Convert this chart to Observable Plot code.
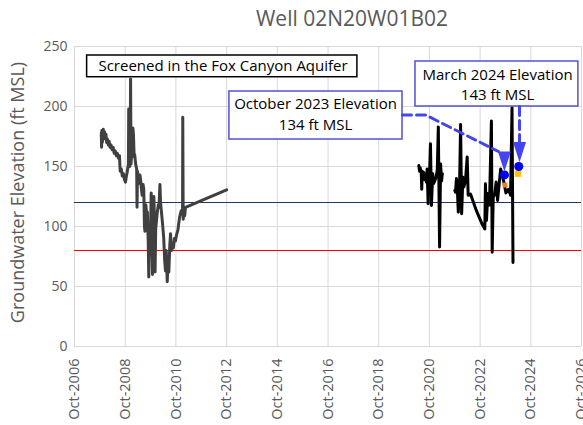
<!DOCTYPE html>
<html>
<head>
<meta charset="utf-8">
<script src="https://cdn.jsdelivr.net/npm/d3@7"></script>
<script src="https://cdn.jsdelivr.net/npm/@observablehq/plot@0.6"></script>
<style>
  body { margin: 0; background: #fff; font-family: "Open Sans", sans-serif; }
  #wrap { width: 583px; height: 425px; position: relative; overflow: hidden; background: #fff; }
  #title { position: absolute; top: 8px; left: 352px; transform: translateX(-50%);
           font-size: 21px; line-height: 21px; color: #595959; white-space: nowrap; }
  #chart { position: absolute; top: 36px; left: 0; }
</style>
</head>
<body>
<div id="wrap">
  <div id="title">Well 02N20W01B02</div>
  <div id="chart"></div>
</div>
<script>
// ---------- data ----------
const xTickLabels = ["Oct-2006","Oct-2008","Oct-2010","Oct-2012","Oct-2014","Oct-2016","Oct-2018","Oct-2020","Oct-2022","Oct-2024","Oct-2026"];
const yTicks = [0, 50, 100, 150, 200, 250];
const yLabel = "Groundwater Elevation (ft MSL)";

// early record (dark gray)
const earlyDates = ["2007-10-22","2007-10-26","2007-10-30","2007-11-06","2007-11-12","2007-11-20","2007-11-28","2007-12-08","2007-12-18","2007-12-28",
  "2008-01-08","2008-01-18","2008-01-30","2008-02-12","2008-02-25","2008-03-10","2008-03-25","2008-04-10","2008-04-25","2008-05-10",
  "2008-05-25","2008-06-10","2008-06-25","2008-07-10","2008-07-20","2008-08-05","2008-08-20","2008-09-05","2008-09-20","2008-10-05",
  "2008-10-15","2008-10-28","2008-11-08","2008-11-16","2008-11-20","2008-11-25","2008-12-05","2008-12-12","2008-12-17","2008-12-23",
  "2009-01-05","2009-01-20","2009-01-28","2009-02-06","2009-02-14","2009-02-28","2009-03-15","2009-03-20","2009-03-26","2009-04-10",
  "2009-04-18","2009-05-01","2009-05-10","2009-05-25","2009-06-02","2009-06-15","2009-06-25","2009-07-05","2009-07-12","2009-07-25",
  "2009-08-10","2009-08-16","2009-08-28","2009-09-05","2009-09-12","2009-09-20","2009-10-01","2009-10-10","2009-10-20","2009-10-28",
  "2009-11-08","2009-11-17","2009-11-25","2009-12-05","2009-12-14","2010-01-04","2010-01-20","2010-01-30","2010-02-13","2010-02-22",
  "2010-03-05","2010-03-20","2010-04-08","2010-04-22","2010-05-04","2010-05-15","2010-05-29","2010-06-10","2010-06-21","2010-07-05",
  "2010-07-16","2010-07-28","2010-08-08","2010-08-25","2010-09-10","2010-09-24","2010-10-10","2010-10-30","2010-11-12","2010-11-24",
  "2010-12-16","2011-01-05","2011-01-08","2011-01-14","2011-01-22","2011-02-05","2011-02-16","2012-10-01"];
const earlyValues = [178,166,180,170,176,181,173,179,174,177,
  170,173,168,171,166,168,164,166,161,163,
  159,161,157,159,146,148,142,144,139,137,
  141,145,149,152,198,156,150,161,223,152,
  163,182,176,158,160,152,148,116,146,140,
  136,143,139,130,126,135,131,100,96,118,
  108,112,88,58,82,76,96,128,100,60,
  92,125,110,62,98,111,118,116,135,120,
  113,104,91,72,63,80,54,70,62,84,
  94,80,86,82,90,88,93,97,103,108,
  113,110,191,106,113,109,116,130.5];

// recent record (black); null marks a gap in the record
const lateDates = ["2020-05-01","2020-05-12","2020-05-20","2020-06-05","2020-06-12","2020-06-20","2020-07-05","2020-07-12","2020-07-25","2020-08-07",
  "2020-08-20","2020-08-29","2020-09-12","2020-09-18","2020-10-01","2020-10-16","2020-10-30","2020-11-17","2020-12-01","2020-12-16",
  "2021-01-05","2021-01-22","2021-02-06","2021-02-24","2021-03-11","2021-03-25","2021-04-05","2021-06-01",
  "2021-10-01","2021-10-12","2021-10-25","2021-11-06","2021-11-21","2021-12-09","2021-12-24","2022-01-08","2022-01-26","2022-02-10",
  "2022-03-04","2022-03-29","2022-04-12","2022-05-16","2022-08-10","2022-10-30","2022-12-08","2022-12-17","2023-01-01","2023-01-20",
  "2023-02-13","2023-03-13","2023-03-24","2023-04-08","2023-05-01","2023-05-20","2023-06-10","2023-06-29","2023-07-24","2023-08-16",
  "2023-09-05","2023-10-08","2023-11-14","2023-12-14","2024-01-04","2024-01-18"];
const lateValues = [150.8,146,149,145,131,146,143,145,139,141,
  137,148,119,140,141,169,117.5,144,136,138,
  141,147,183,83,152,138,144,null,
  130,128.6,140,132.8,112,134,185,110.6,141,133,
  138,158,126,127,113,102,98,135.6,105,127.5,
  118,188,78.6,124.4,127,137,121.7,133,148,142.5,
  138,128,131,126,199,70];

// reference levels
const thresholdLevels = [120, 80];

// highlighted measurements
const markerDates = ["2023-09-18", "2024-04-10"];
const markerValues = [143, 150];
const labelPointDates = ["2023-09-25", "2024-03-28"];
const labelPointValues = [134.5, 144];

// annotation boxes (data space) and their text lines
const boxX1 = ["2007-04-01", "2012-11-10", "2020-03-14"];
const boxX2 = ["2017-11-28", "2019-09-09", "2026-08-17"];
const boxY1 = [224.4, 172.5, 200];
const boxY2 = [242.5, 212.5, 237.5];
const boxKind = ["screen", "callout", "callout"];
const noteText = ["Screened in the Fox Canyon Aquifer", "October 2023 Elevation", "134 ft MSL", "March 2024 Elevation", "143 ft MSL"];
const noteX = ["2012-08-10", "2016-04-04", "2016-04-04", "2023-06-10", "2023-06-10"];
const noteY = [233.2, 202.3, 184.8, 226.5, 209.8];

// callout connectors
const octLeaderDates = ["2019-09-09", "2020-08-07", "2023-06-23"];
const octLeaderValues = [192.9, 192.9, 162.5];
const marLeaderDates = ["2024-04-21", "2024-04-21"];
const marLeaderValues = [200, 170.8];
const arrowTipDates = ["2023-09-16", "2024-04-21"];
const arrowTipValues = [145.8, 153.6];

// ---------- build ----------
const parse = d3.utcParse("%Y-%m-%d");
const parseTick = d3.utcParse("%b-%Y");
const xTicks = xTickLabels.map(parseTick);
const early = earlyDates.map((d, i) => ({date: parse(d), value: earlyValues[i]}));
const late = lateDates.map((d, i) => ({date: parse(d), value: lateValues[i]}));
const markers = markerDates.map((d, i) => ({date: parse(d), value: markerValues[i]}));
const labelPts = labelPointDates.map((d, i) => ({date: parse(d), value: labelPointValues[i], i}));
const boxes = boxX1.map((d, i) => ({x1: parse(d), x2: parse(boxX2[i]), y1: boxY1[i], y2: boxY2[i], kind: boxKind[i]}));
const notes = noteText.map((t, i) => ({text: t, x: parse(noteX[i]), y: noteY[i]}));
const octLeader = octLeaderDates.map((d, i) => ({date: parse(d), value: octLeaderValues[i]}));
const marLeader = marLeaderDates.map((d, i) => ({date: parse(d), value: marLeaderValues[i]}));
const tips = arrowTipDates.map((d, i) => ({date: parse(d), value: arrowTipValues[i]}));

const arrowHead = {
  draw(ctx, size) {
    const r = Math.sqrt(size / Math.PI);
    ctx.moveTo(0, 0);
    ctx.lineTo(-r, -r * 3.1);
    ctx.lineTo(r, -r * 3.1);
    ctx.closePath();
  }
};

const FONT = "Open Sans";
const calloutBlue = "#5050d8";
const dashBlue = "#4444f0";

const chart = Plot.plot({
  width: 583,
  height: 389,
  marginTop: 10,
  marginBottom: 79,
  marginLeft: 74,
  marginRight: 2,
  style: {fontFamily: FONT, fontSize: "14px", background: "white", color: "#595959", overflow: "visible"},
  x: {type: "utc", domain: [xTicks[0], xTicks[xTicks.length - 1]]},
  y: {domain: [0, 250]},
  marks: [
    Plot.gridY(yTicks, {stroke: "#d9d9d9", strokeOpacity: 1, strokeWidth: 1}),
    Plot.gridX(xTicks, {stroke: "#d9d9d9", strokeOpacity: 1, strokeWidth: 1}),
    Plot.axisY({ticks: yTicks, tickSize: 0, tickPadding: 7, fontSize: 14, fill: "#595959", label: null}),
    Plot.axisX({ticks: xTicks, tickSize: 0, tickPadding: 12, tickRotate: -90, fontSize: 14.5, fill: "#595959",
                tickFormat: d3.utcFormat("%b-%Y"), label: null}),
    Plot.text([yLabel], {frameAnchor: "left", textAnchor: "middle", dx: -56, dy: -4, rotate: -90, fontSize: 18, fill: "#595959", fontFamily: FONT}),
    Plot.ruleY([thresholdLevels[0]], {stroke: "#1f3864", strokeWidth: 1}),
    Plot.ruleY([thresholdLevels[1]], {stroke: "#ff0000", strokeWidth: 1}),
    Plot.line(early, {x: "date", y: "value", stroke: "#404040", strokeWidth: 3, strokeLinejoin: "round", strokeLinecap: "round"}),
    Plot.line(late, {x: "date", y: "value", stroke: "#000000", strokeWidth: 3, strokeLinejoin: "round", strokeLinecap: "round"}),
    Plot.dot(labelPts, {x: "date", y: "value", symbol: "square", r: (d) => d.i === 0 ? 2.3 : 3.7,
                        fill: (d) => d.i === 0 ? "#ed7d31" : "#ffc000", stroke: "none"}),
    Plot.dot(markers, {x: "date", y: "value", r: 4.5, fill: "#0000ff", stroke: "none"}),
    Plot.rect(boxes, {x1: "x1", x2: "x2", y1: "y1", y2: "y2", fill: "white",
                      stroke: (d) => d.kind === "screen" ? "#000000" : calloutBlue, strokeWidth: 1.5}),
    Plot.text(notes, {x: "x", y: "y", text: "text", fontSize: 15, fill: "#000000", fontFamily: FONT}),
    Plot.line(octLeader, {x: "date", y: "value", stroke: dashBlue, strokeWidth: 3, strokeDasharray: "9,5"}),
    Plot.line(marLeader, {x: "date", y: "value", stroke: dashBlue, strokeWidth: 3, strokeDasharray: "9,5"}),
    Plot.dot(tips, {x: "date", y: "value", symbol: arrowHead, r: 6.5, fill: dashBlue, stroke: "none"})
  ]
});
document.getElementById("chart").appendChild(chart);
</script>
</body>
</html>
